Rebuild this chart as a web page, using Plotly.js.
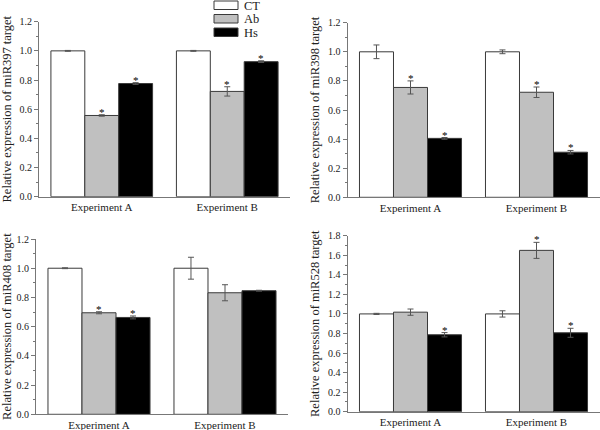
<!DOCTYPE html>
<html>
<head>
<meta charset="utf-8">
<script src="https://cdn.plot.ly/plotly-3.0.1.min.js"></script>
<style>html,body{margin:0;padding:0;background:#fff}#chart{width:600px;height:430px}</style>
</head>
<body>
<div id="chart"></div>
<script>
// ---- data ----
const categories = ["Experiment A", "Experiment B"];
const seriesNames = ["CT", "Ab", "Hs"];
const seriesColors = ["#ffffff", "#c0c0c0", "#000000"];

// rows: CT, Ab, Hs ; columns: Experiment A, Experiment B
const miR397_values = [[1.00, 1.00], [0.557, 0.722], [0.776, 0.926]];
const miR397_errors = [[0.003, 0.003], [0.005, 0.032], [0.006, 0.006]];
const miR397_signif = [[0, 0], [1, 1], [1, 1]];

const miR398_values = [[1.00, 1.00], [0.755, 0.722], [0.405, 0.310]];
const miR398_errors = [[0.047, 0.013], [0.045, 0.036], [0.006, 0.012]];
const miR398_signif = [[0, 0], [1, 1], [1, 1]];

const miR408_values = [[1.00, 1.00], [0.695, 0.832], [0.663, 0.846]];
const miR408_errors = [[0.003, 0.075], [0.007, 0.055], [0.010, 0.003]];
const miR408_signif = [[0, 0], [1, 0], [1, 0]];

const miR528_values = [[1.00, 1.00], [1.018, 1.650], [0.787, 0.807]];
const miR528_errors = [[0.006, 0.032], [0.032, 0.082], [0.022, 0.046]];
const miR528_signif = [[0, 0], [0, 1], [1, 1]];

const panelTitles = ["Relative expression of miR397 target", "Relative expression of miR398 target",
                     "Relative expression of miR408 target", "Relative expression of miR528 target"];
const panelYMax = [1.2, 1.2, 1.2, 1.8];

// ---- build ----
const panels = [
  {v: miR397_values, e: miR397_errors, s: miR397_signif},
  {v: miR398_values, e: miR398_errors, s: miR398_signif},
  {v: miR408_values, e: miR408_errors, s: miR408_signif},
  {v: miR528_values, e: miR528_errors, s: miR528_signif}
];
const W = 600, H = 430;
const boxes = [ // [left, right, top, bottom] in px
  [39, 290, 21.7, 196.7],
  [347.5, 599.5, 22.7, 197.3],
  [36, 288, 239, 414.3],
  [347.5, 599.5, 235.7, 411.7]
];
const bargap = 0.19;
const FONT = "Liberation Serif";

const traces = [];
const annotations = [];
const layout = {
  width: W, height: H,
  margin: {l: 0, r: 0, t: 0, b: 0},
  paper_bgcolor: "#fff", plot_bgcolor: "rgba(0,0,0,0)",
  barmode: "group", bargap: bargap, bargroupgap: 0,
  showlegend: false,
  font: {family: FONT, color: "#222"},
  shapes: [], annotations: annotations
};

panels.forEach((p, pi) => {
  const n = pi + 1;
  const xa = "x" + (n === 1 ? "" : n), ya = "y" + (n === 1 ? "" : n);
  const b = boxes[pi];
  seriesNames.forEach((name, si) => {
    traces.push({
      type: "bar", name: name, x: categories, y: p.v[si],
      xaxis: xa, yaxis: ya,
      marker: {color: seriesColors[si], line: {color: "#3a3a3a", width: 1}},
      error_y: {type: "data", array: p.e[si], visible: true, color: "#555", thickness: 1, width: 3},
      hoverinfo: "none"
    });
    const bw = (1 - bargap) / seriesNames.length;
    p.s[si].forEach((sig, ci) => {
      if (!sig) return;
      annotations.push({
        xref: xa, yref: ya, x: ci + (si - 1) * bw, y: p.v[si][ci] + p.e[si][ci],
        text: "*", showarrow: false, yanchor: "bottom", yshift: -5,
        font: {family: FONT, size: 11, color: "#000"}
      });
    });
  });
  layout["xaxis" + (n === 1 ? "" : n)] = {
    domain: [b[0] / W, b[1] / W], anchor: ya,
    type: "category", range: [-0.5, 1.5],
    showline: true, linecolor: "#777", linewidth: 1, ticks: "", showgrid: false, zeroline: false,
    tickfont: {family: FONT, size: 11, color: "#222"}, automargin: false, fixedrange: true
  };
  layout["yaxis" + (n === 1 ? "" : n)] = {
    domain: [1 - b[3] / H, 1 - b[2] / H], anchor: xa,
    range: [0, panelYMax[pi]], dtick: 0.2, tick0: 0, tickformat: ".1f",
    showline: true, linecolor: "#777", linewidth: 1,
    ticks: "outside", ticklen: 4, tickcolor: "#777",
    minor: {dtick: 0.1, ticks: "outside", ticklen: 2, tickcolor: "#777"},
    showgrid: false, zeroline: false,
    tickfont: {family: FONT, size: 10, color: "#222"},
    title: {text: panelTitles[pi], font: {family: FONT, size: 12.5, color: "#222"}, standoff: 5},
    automargin: false, fixedrange: true
  };
});

// legend drawn as boxes + labels
const legendTop = [1, 14.5, 28];
seriesNames.forEach((name, si) => {
  layout.shapes.push({
    type: "rect", xref: "paper", yref: "paper",
    x0: 214 / W, x1: 238 / W, y0: 1 - (legendTop[si] + 8.5) / H, y1: 1 - legendTop[si] / H,
    fillcolor: seriesColors[si], line: {color: "#3a3a3a", width: 1}
  });
  annotations.push({
    xref: "paper", yref: "paper", x: 242 / W, y: 1 - (legendTop[si] + 4.5) / H,
    xanchor: "left", yanchor: "middle", text: name, showarrow: false,
    font: {family: FONT, size: 12.5, color: "#222"}
  });
});

Plotly.newPlot("chart", traces, layout, {staticPlot: true, displayModeBar: false});
</script>
</body>
</html>
